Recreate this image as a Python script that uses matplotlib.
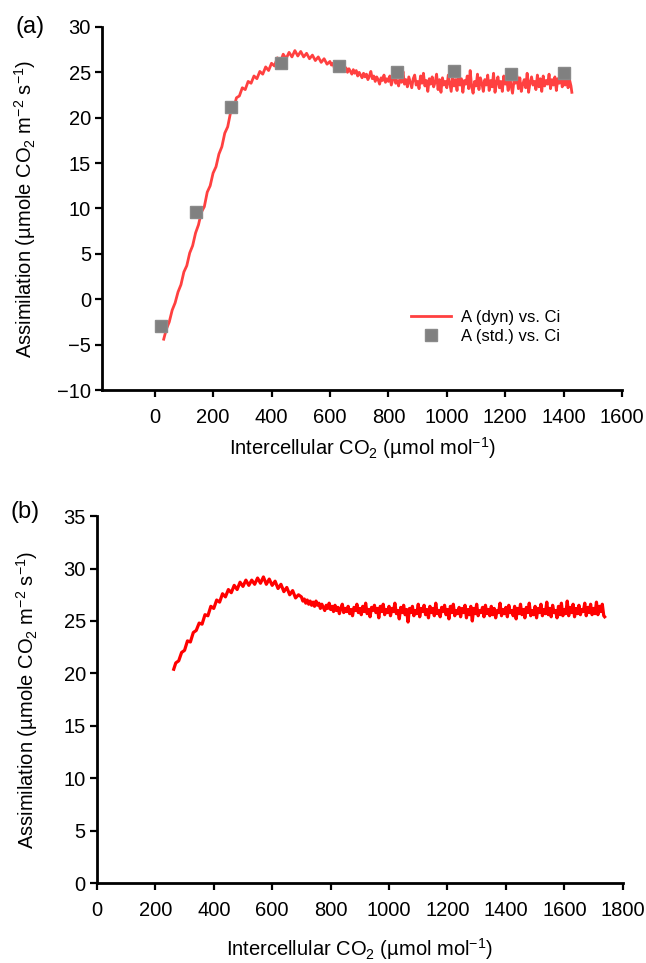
import matplotlib
matplotlib.use("Agg")
import matplotlib.pyplot as plt

plt.rcParams['font.family'] = ['Liberation Sans', 'DejaVu Sans']
plt.rcParams['mathtext.fontset'] = 'custom'
plt.rcParams['mathtext.rm'] = 'Liberation Sans'
plt.rcParams['mathtext.it'] = 'Liberation Sans'

# ---- Panel (a): dynamic A vs Ci ----
ci_dyn_a = [31, 40, 50, 60, 70, 80, 90, 100, 110, 120, 130, 140, 150, 160, 170, 180, 190, 200, 210, 220,
            230, 240, 250, 260, 270, 280, 290, 300, 310, 320, 330, 340, 350, 360, 370, 380, 390, 400, 410, 420,
            430, 440, 450, 460, 470, 480, 490, 500, 510, 520, 530, 540, 550, 560, 570, 580, 590,
            600, 605, 610, 615, 620, 625, 630, 635, 640, 645,
            650, 655, 660, 665, 670, 675, 680, 685, 690, 695,
            700, 705, 710, 715, 720, 725, 730, 735, 740, 745,
            750, 755, 760, 765, 770, 775, 780, 785, 790, 795,
            800, 805, 810, 815, 820, 825, 830, 835, 840, 845,
            850, 855, 860, 865, 870, 875, 880, 885, 890, 895,
            900, 905, 910, 915, 920, 925, 930, 935, 940, 945,
            950, 955, 960, 965, 970, 975, 980, 985, 990, 995,
            1000, 1005, 1010, 1015, 1020, 1025, 1030, 1035, 1040, 1045,
            1050, 1055, 1060, 1065, 1070, 1075, 1080, 1085, 1090, 1095,
            1100, 1105, 1110, 1115, 1120, 1125, 1130, 1135, 1140, 1145,
            1150, 1155, 1160, 1165, 1170, 1175, 1180, 1185, 1190, 1195,
            1200, 1205, 1210, 1215, 1220, 1225, 1230, 1235, 1240, 1245,
            1250, 1255, 1260, 1265, 1270, 1275, 1280, 1285, 1290, 1295,
            1300, 1305, 1310, 1315, 1320, 1325, 1330, 1335, 1340, 1345,
            1350, 1355, 1360, 1365, 1370, 1375, 1380, 1385, 1390, 1395,
            1400, 1405, 1410, 1415, 1420, 1425, 1428]
a_dyn_a = [-4.4, -3.3, -2.5, -1.2, -0.4, 0.8, 1.6, 3.0, 3.7, 5.1, 5.9, 7.3, 8.2, 9.6, 10.2, 11.8, 12.5, 13.9, 14.6, 16.0,
           16.8, 18.3, 19.0, 20.6, 21.0, 22.2, 22.4, 23.3, 23.1, 24.0, 23.8, 24.6, 24.3, 25.1, 24.8, 25.6, 25.2, 26.0, 25.7, 26.6,
           26.1, 27.0, 26.5, 27.2, 26.7, 27.4, 26.8, 27.3, 26.7, 27.1, 26.5, 26.9, 26.3, 26.7, 26.1, 26.5, 25.9,
           26.2, 25.8, 26.0, 25.5, 25.9, 25.6, 25.3, 25.7, 25.4, 25.8,
           25.2, 25.5, 25.0, 25.4, 25.1, 24.8, 25.3, 24.9, 25.2, 24.6,
           25.0, 24.7, 24.4, 24.9, 24.5, 24.8, 24.2, 24.6, 25.1, 24.3,
           24.6, 24.0, 24.5, 24.2, 23.7, 24.4, 24.1, 24.7, 23.9, 24.3,
           24.0, 24.6, 23.6, 24.2, 24.8, 23.8, 24.1, 23.5, 24.4, 23.9,
           25.1, 23.7, 24.2, 23.4, 24.5, 23.9, 23.3, 24.3, 24.7, 23.6,
           24.0, 23.2, 24.6, 23.8, 24.9, 23.5, 24.1, 22.9, 24.3, 23.7,
           24.5, 23.4, 23.9, 24.8, 23.1, 24.2, 22.8, 24.4, 23.6, 24.0,
           23.3, 24.7, 23.8, 22.9, 24.5, 23.5, 24.2, 23.0, 25.0, 23.6,
           24.3, 22.8, 24.1, 23.7, 24.6, 23.2, 25.2, 23.4, 22.7, 24.0,
           23.5, 24.8, 23.1, 24.4, 23.8, 22.9, 24.2, 23.6, 24.7, 23.0,
           24.1, 23.4, 24.9, 22.8, 23.9, 24.5, 23.3, 24.0, 22.9, 24.6,
           23.7, 24.3, 23.0, 24.8, 23.5, 22.7, 24.1, 23.8, 24.6, 23.2,
           24.4, 22.9, 23.7, 24.2, 23.3, 24.9, 22.8, 23.9, 24.5, 23.6,
           24.0, 23.1, 24.7, 23.4, 24.3, 22.9, 24.6, 23.5, 24.1, 23.7,
           24.8, 23.2, 24.2, 23.6, 24.5, 23.0, 24.3, 23.8, 24.7, 23.4,
           24.1, 23.6, 24.5, 23.3, 24.2, 23.5, 22.8]

# ---- Panel (a): steady-state A vs Ci ----
ci_std_a = [23, 140, 263, 432, 630, 830, 1024, 1219, 1401]
a_std_a = [-3.0, 9.6, 21.2, 26.0, 25.7, 25.0, 25.1, 24.8, 24.9]

# ---- Panel (b): dynamic A vs Ci ----
ci_dyn_b = [263, 270, 280, 290, 300, 310, 320, 330, 340, 350, 360, 370, 380, 390, 400, 410, 420, 430, 440, 450,
            460, 470, 480, 490, 500, 510, 520, 530, 540, 550, 560, 570, 580, 590, 600, 610, 620, 630, 640, 650,
            660, 670, 680, 690,
            700, 705, 710, 715, 720, 725, 730, 735, 740, 745,
            750, 755, 760, 765, 770, 775, 780, 785, 790, 795,
            800, 805, 810, 815, 820, 825, 830, 835, 840, 845,
            850, 855, 860, 865, 870, 875, 880, 885, 890, 895,
            900, 905, 910, 915, 920, 925, 930, 935, 940, 945,
            950, 955, 960, 965, 970, 975, 980, 985, 990, 995,
            1000, 1005, 1010, 1015, 1020, 1025, 1030, 1035, 1040, 1045,
            1050, 1055, 1060, 1065, 1070, 1075, 1080, 1085, 1090, 1095,
            1100, 1105, 1110, 1115, 1120, 1125, 1130, 1135, 1140, 1145,
            1150, 1155, 1160, 1165, 1170, 1175, 1180, 1185, 1190, 1195,
            1200, 1205, 1210, 1215, 1220, 1225, 1230, 1235, 1240, 1245,
            1250, 1255, 1260, 1265, 1270, 1275, 1280, 1285, 1290, 1295,
            1300, 1305, 1310, 1315, 1320, 1325, 1330, 1335, 1340, 1345,
            1350, 1355, 1360, 1365, 1370, 1375, 1380, 1385, 1390, 1395,
            1400, 1405, 1410, 1415, 1420, 1425, 1430, 1435, 1440, 1445,
            1450, 1455, 1460, 1465, 1470, 1475, 1480, 1485, 1490, 1495,
            1500, 1505, 1510, 1515, 1520, 1525, 1530, 1535, 1540, 1545,
            1550, 1555, 1560, 1565, 1570, 1575, 1580, 1585, 1590, 1595,
            1600, 1605, 1610, 1615, 1620, 1625, 1630, 1635, 1640, 1645,
            1650, 1655, 1660, 1665, 1670, 1675, 1680, 1685, 1690, 1695,
            1700, 1705, 1710, 1715, 1720, 1725, 1730, 1735, 1738]
a_dyn_b = [20.4, 21.0, 21.2, 22.0, 22.2, 23.1, 23.0, 23.9, 24.1, 24.8, 24.7, 25.6, 25.5, 26.4, 26.2, 27.0, 26.8, 27.6, 27.3, 28.0,
           27.7, 28.4, 28.0, 28.7, 28.3, 28.9, 28.4, 28.9, 28.5, 29.1, 28.6, 29.2, 28.5, 29.0, 28.4, 28.8, 28.1, 28.5, 27.8, 28.2,
           27.5, 27.9, 27.2, 27.5,
           27.3, 26.9, 27.1, 26.7, 27.0, 26.6, 26.9, 26.5, 26.8, 26.4,
           26.9, 26.5, 26.7, 26.2, 26.6, 26.3, 26.0, 26.5, 26.2, 26.7,
           26.1, 26.4, 25.9, 26.5, 26.0, 26.3, 25.7, 26.2, 26.6, 25.8,
           26.2, 25.9, 26.4, 25.7, 26.1, 25.5, 26.3, 26.0, 26.6, 25.8,
           26.2, 25.6, 26.4, 25.9, 26.7, 25.7, 26.1, 25.4, 26.3, 26.0,
           26.5, 25.8, 26.2, 25.3, 26.4, 25.9, 26.6, 25.6, 26.1, 25.8,
           26.4, 25.5, 26.2, 25.9, 26.7, 25.7, 26.0, 25.2, 26.3, 25.8,
           26.5, 25.6, 26.1, 24.9, 26.2, 25.8, 26.4, 25.5, 26.0, 25.7,
           26.6, 25.4, 26.2, 25.9, 26.5, 25.6, 26.1, 25.3, 26.4, 25.8,
           26.2, 25.5, 26.7, 25.7, 26.0, 25.4, 26.3, 25.9, 26.5, 25.6,
           26.1, 25.2, 26.4, 25.8, 26.6, 25.5, 26.0, 25.7, 26.3, 25.4,
           26.2, 25.8, 26.5, 25.3, 26.1, 25.6, 26.4, 25.0, 26.2, 25.7,
           26.6, 25.5, 26.0, 25.8, 26.3, 25.4, 26.5, 25.7, 26.1, 25.5,
           26.4, 25.6, 26.2, 25.3, 26.0, 25.8, 26.7, 25.5, 26.1, 25.7,
           26.3, 25.4, 26.5, 25.8, 26.0, 25.5, 26.4, 25.2, 26.2, 25.7,
           26.6, 25.6, 26.1, 25.3, 26.3, 25.8, 26.7, 25.5, 26.0, 25.6,
           26.4, 25.3, 26.2, 25.8, 26.6, 25.5, 26.1, 25.7, 26.8, 25.6,
           26.2, 25.4, 26.5, 25.8, 26.0, 25.3, 26.4, 25.6, 26.7, 25.5,
           26.1, 25.7, 26.9, 25.5, 26.3, 25.8, 26.6, 25.4, 26.2, 25.7,
           26.5, 25.6, 26.1, 25.9, 26.7, 25.5, 26.3, 25.8, 26.6, 25.6,
           26.2, 25.7, 26.8, 25.6, 26.4, 25.9, 26.6, 25.5, 25.4]

xticks_a = [0, 200, 400, 600, 800, 1000, 1200, 1400, 1600]
yticks_a = [-10, -5, 0, 5, 10, 15, 20, 25, 30]
xticks_b = [0, 200, 400, 600, 800, 1000, 1200, 1400, 1600, 1800]
yticks_b = [0, 5, 10, 15, 20, 25, 30, 35]

xlabel = 'Intercellular CO$_2$ (µmol mol$^{-1}$)'
ylabel = 'Assimilation (µmole CO$_2$ m$^{-2}$ s$^{-1}$)'

fig = plt.figure(figsize=(6.46, 9.63), dpi=100)
ax1 = fig.add_axes([0.158, 0.595, 0.805, 0.377])
ax2 = fig.add_axes([0.150, 0.083, 0.814, 0.381])

FS = 14.5

def style(ax):
    for s in ['top', 'right']:
        ax.spines[s].set_visible(False)
    for s in ['left', 'bottom']:
        ax.spines[s].set_linewidth(2)
    ax.tick_params(direction='out', length=5, width=1.6, labelsize=FS)
    ax.tick_params(axis='x', pad=8)
    ax.tick_params(axis='y', pad=3)

ax1.plot(ci_dyn_a, a_dyn_a, color='#ff4040', lw=2.0, label='A (dyn) vs. Ci', zorder=2)
ax1.plot(ci_std_a, a_std_a, linestyle='none', marker='s', markersize=9, color='#808080',
         markeredgecolor='#8a8a8a', label='A (std.) vs. Ci', zorder=3)
ax1.set_xlim(-180, 1600)
ax1.set_ylim(-10, 30)
ax1.set_xticks(xticks_a)
ax1.set_yticks(yticks_a)
style(ax1)
ax1.set_xlabel(xlabel, fontsize=FS)
ax1.set_ylabel(ylabel, fontsize=FS)
ax1.xaxis.label.set_va('center')
ax1.yaxis.label.set_va('center')
ax1.xaxis.set_label_coords(0.5, -0.160)
ax1.yaxis.set_label_coords(-0.148, 0.5)
leg = ax1.legend(loc='upper left', bbox_to_anchor=(0.565, 0.262), frameon=False, fontsize=12,
                 handlelength=2.4, handletextpad=0.6, labelspacing=0.25)

ax2.plot(ci_dyn_b, a_dyn_b, color='#ff0000', lw=2.3)
ax2.set_xlim(0, 1800)
ax2.set_ylim(0, 35)
ax2.set_xticks(xticks_b)
ax2.set_yticks(yticks_b)
style(ax2)
ax2.set_xlabel(xlabel, fontsize=FS)
ax2.set_ylabel(ylabel, fontsize=FS)
ax2.xaxis.label.set_va('center')
ax2.yaxis.label.set_va('center')
ax2.xaxis.set_label_coords(0.5, -0.180)
ax2.yaxis.set_label_coords(-0.133, 0.5)

fig.text(30 / 646, 1 - 27 / 963, '(a)', fontsize=17, va='center', ha='center')
fig.text(25 / 646, 1 - 512 / 963, '(b)', fontsize=17, va='center', ha='center')

fig.savefig('out.png', dpi=100)
